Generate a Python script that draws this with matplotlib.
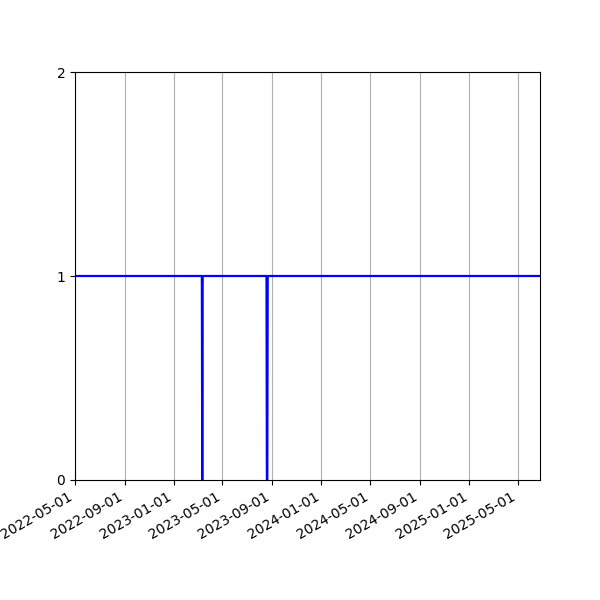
import matplotlib
matplotlib.use("Agg")
import matplotlib.pyplot as plt
import matplotlib.dates as mdates
import pandas as pd

dates = ["2022-05-01", "2023-03-11", "2023-03-12", "2023-03-13",
         "2023-08-18", "2023-08-19", "2023-08-20", "2023-08-21", "2025-06-25"]
values = [1, 1, 0, 1, 1, 0, 0, 1, 1]
yticks = [0, 1, 2]

x = pd.to_datetime(dates)

fig, ax = plt.subplots(figsize=(6, 6), dpi=100)
ax.plot(x, values, color="blue", linewidth=1.6)
ax.set_xlim(x[0], x[-1])
ax.set_ylim(0, 2)
ax.set_yticks(yticks)
ax.xaxis.set_major_locator(mdates.MonthLocator(bymonth=[1, 5, 9]))
ax.xaxis.set_major_formatter(mdates.DateFormatter("%Y-%m-%d"))
ax.grid(True, axis="x")
fig.autofmt_xdate()
fig.savefig("out.png")
